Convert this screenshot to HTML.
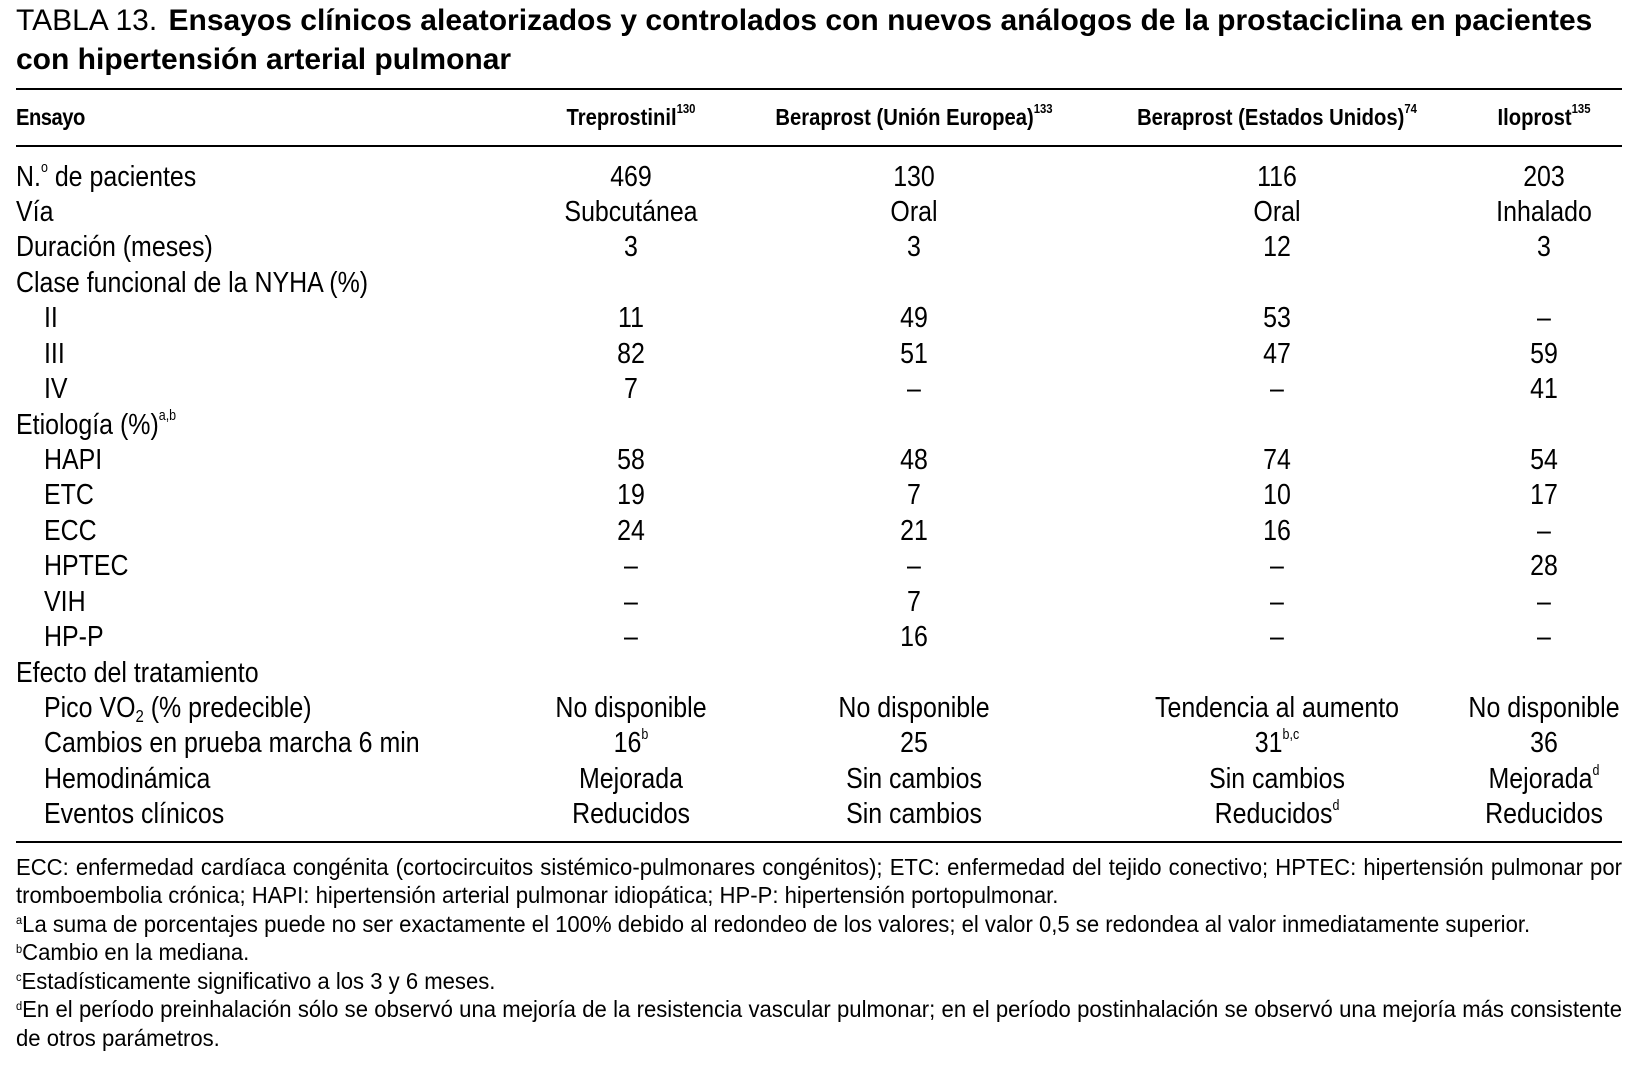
<!DOCTYPE html>
<html lang="es">
<head>
<meta charset="utf-8">
<title>Tabla 13</title>
<style>
html,body{margin:0;padding:0;background:#fff}
#page{position:relative;width:1642px;height:1067px;overflow:hidden;background:#fff;color:#000;font-family:"Liberation Sans",Arial,sans-serif}
.t{position:absolute;left:16px;font-size:30px;line-height:40px;white-space:nowrap;color:#000}
.t b{font-weight:700;font-size:30px}
.t1 b{margin-left:3px}
.rule{position:absolute;left:16px;width:1606px;height:2px;background:#000}
.row{position:absolute;left:0;width:1642px;height:36px;font-size:29px;line-height:36px;font-weight:400}
.row span{position:absolute;top:-.5px;white-space:nowrap}
.l{left:16px;transform:scaleX(.86);transform-origin:0 50%}
.in{left:44px}
.c1,.c2,.c3,.c4{transform:translateX(-50%) scaleX(.86);transform-origin:50% 50%}
.c1{left:631px}
.c2{left:914px}
.c3{left:1276.5px}
.c4{left:1544px}
.hd{font-size:23.5px;font-weight:700}
.hd span{top:0}
.hd sup{font-size:.56em}
sup{font-size:.5em;line-height:0;vertical-align:baseline;position:relative;top:-.9em}
sub{font-size:.6em;line-height:0;vertical-align:baseline;position:relative;top:.3em}
.f{position:absolute;left:16px;font-size:23.5px;line-height:28px;white-space:nowrap;transform:scaleX(.94);transform-origin:0 50%}
.j{white-space:normal;width:1708.5px;text-align:justify;text-align-last:justify}
.f sup{top:-.6em}
</style>
</head>
<body>
<div id="page">
<div class="t t1" style="top:1px">TABLA 13. <b>Ensayos clínicos aleatorizados y controlados con nuevos análogos de la prostaciclina en pacientes</b></div>
<div class="t" style="top:40px"><b>con hipertensión arterial pulmonar</b></div>
<div class="rule" style="top:88px"></div>
<div class="row hd" style="top:99px"><span class="l" style="letter-spacing:-.6px">Ensayo</span><span class="c1">Treprostinil<sup>130</sup></span><span class="c2">Beraprost (Unión Europea)<sup>133</sup></span><span class="c3">Beraprost (Estados Unidos)<sup>74</sup></span><span class="c4">Iloprost<sup>135</sup></span></div>
<div class="rule" style="top:145px"></div>
<div class="row" style="top:159px"><span class="l">N.<sup>o</sup> de pacientes</span><span class="c1">469</span><span class="c2">130</span><span class="c3">116</span><span class="c4">203</span></div>
<div class="row" style="top:194.4px"><span class="l">Vía</span><span class="c1">Subcutánea</span><span class="c2">Oral</span><span class="c3">Oral</span><span class="c4">Inhalado</span></div>
<div class="row" style="top:229.9px"><span class="l">Duración (meses)</span><span class="c1">3</span><span class="c2">3</span><span class="c3">12</span><span class="c4">3</span></div>
<div class="row" style="top:265.3px"><span class="l">Clase funcional de la NYHA (%)</span></div>
<div class="row" style="top:300.7px"><span class="l in">II</span><span class="c1">11</span><span class="c2">49</span><span class="c3">53</span><span class="c4">–</span></div>
<div class="row" style="top:336.2px"><span class="l in">III</span><span class="c1">82</span><span class="c2">51</span><span class="c3">47</span><span class="c4">59</span></div>
<div class="row" style="top:371.6px"><span class="l in">IV</span><span class="c1">7</span><span class="c2">–</span><span class="c3">–</span><span class="c4">41</span></div>
<div class="row" style="top:407px"><span class="l">Etiología (%)<sup>a,b</sup></span></div>
<div class="row" style="top:442.4px"><span class="l in">HAPI</span><span class="c1">58</span><span class="c2">48</span><span class="c3">74</span><span class="c4">54</span></div>
<div class="row" style="top:477.9px"><span class="l in">ETC</span><span class="c1">19</span><span class="c2">7</span><span class="c3">10</span><span class="c4">17</span></div>
<div class="row" style="top:513.3px"><span class="l in">ECC</span><span class="c1">24</span><span class="c2">21</span><span class="c3">16</span><span class="c4">–</span></div>
<div class="row" style="top:548.7px"><span class="l in">HPTEC</span><span class="c1">–</span><span class="c2">–</span><span class="c3">–</span><span class="c4">28</span></div>
<div class="row" style="top:584.2px"><span class="l in">VIH</span><span class="c1">–</span><span class="c2">7</span><span class="c3">–</span><span class="c4">–</span></div>
<div class="row" style="top:619.6px"><span class="l in">HP-P</span><span class="c1">–</span><span class="c2">16</span><span class="c3">–</span><span class="c4">–</span></div>
<div class="row" style="top:655px"><span class="l">Efecto del tratamiento</span></div>
<div class="row" style="top:690.4px"><span class="l in">Pico VO<sub>2</sub> (% predecible)</span><span class="c1">No disponible</span><span class="c2">No disponible</span><span class="c3">Tendencia al aumento</span><span class="c4">No disponible</span></div>
<div class="row" style="top:725.9px"><span class="l in">Cambios en prueba marcha 6 min</span><span class="c1">16<sup>b</sup></span><span class="c2">25</span><span class="c3">31<sup>b,c</sup></span><span class="c4">36</span></div>
<div class="row" style="top:761.3px"><span class="l in">Hemodinámica</span><span class="c1">Mejorada</span><span class="c2">Sin cambios</span><span class="c3">Sin cambios</span><span class="c4">Mejorada<sup>d</sup></span></div>
<div class="row" style="top:796.7px"><span class="l in">Eventos clínicos</span><span class="c1">Reducidos</span><span class="c2">Sin cambios</span><span class="c3">Reducidos<sup>d</sup></span><span class="c4">Reducidos</span></div>
<div class="rule" style="top:841px"></div>
<div class="f j" style="top:852.5px">ECC: enfermedad cardíaca congénita (cortocircuitos sistémico-pulmonares congénitos); ETC: enfermedad del tejido conectivo; HPTEC: hipertensión pulmonar por</div>
<div class="f" style="top:881px">tromboembolia crónica; HAPI: hipertensión arterial pulmonar idiopática; HP-P: hipertensión portopulmonar.</div>
<div class="f" style="top:909.5px"><sup>a</sup>La suma de porcentajes puede no ser exactamente el 100% debido al redondeo de los valores; el valor 0,5 se redondea al valor inmediatamente superior.</div>
<div class="f" style="top:938px"><sup>b</sup>Cambio en la mediana.</div>
<div class="f" style="top:966.5px"><sup>c</sup>Estadísticamente significativo a los 3 y 6 meses.</div>
<div class="f j" style="top:995px"><sup>d</sup>En el período preinhalación sólo se observó una mejoría de la resistencia vascular pulmonar; en el período postinhalación se observó una mejoría más consistente</div>
<div class="f" style="top:1023.5px">de otros parámetros.</div>
</div>
</body>
</html>
